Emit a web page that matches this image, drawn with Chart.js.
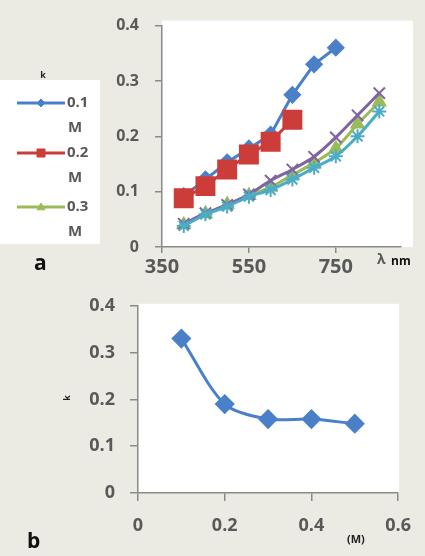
<!DOCTYPE html>
<html><head><meta charset="utf-8">
<script src="https://cdn.jsdelivr.net/npm/chart.js@4.4.0/dist/chart.umd.min.js"></script>
<style>
html,body{margin:0;padding:0;background:#ecebe3;width:425px;height:556px;overflow:hidden;}
.box{position:absolute;left:0;width:425px;}
#b1{top:0;height:280px;}
#b2{top:280px;height:276px;}
</style></head><body>
<div class="box" id="b1"><canvas id="c1"></canvas></div>
<div class="box" id="b2"><canvas id="c2"></canvas></div>
<script>
// ---------- data ----------
const wavelengths = [400, 450, 500, 550, 600, 650, 700, 750, 800, 850];
const k01 = [0.092, 0.122, 0.153, 0.178, 0.203, 0.275, 0.33, 0.36];
const k02 = [0.088, 0.11, 0.14, 0.167, 0.19, 0.23];
const k03 = [0.040, 0.060, 0.077, 0.093, 0.108, 0.130, 0.152, 0.178, 0.222, 0.262];
const k04 = [0.042, 0.061, 0.076, 0.095, 0.120, 0.140, 0.163, 0.198, 0.238, 0.278];
const k05 = [0.038, 0.059, 0.073, 0.091, 0.103, 0.122, 0.143, 0.164, 0.200, 0.245];
const seriesLabels = ['0.1 M', '0.2 M', '0.3 M', '0.4 M', '0.5 M'];
const concentrations = [0.1, 0.2, 0.3, 0.4, 0.5];
const kVsConc = [0.33, 0.19, 0.158, 0.158, 0.148];
const xTicksA = [350, 550, 750];
const yTicksK = [0, 0.1, 0.2, 0.3, 0.4];
const xTicksB = [0, 0.2, 0.4, 0.6];

const FONT = "'Open Sans', 'Liberation Sans', sans-serif";
const GREY = '#595959';
const AXIS = '#8a8a8a';
const C_BLUE = '#4a80c8', C_RED = '#cc3c38', C_GREEN = '#9bbb59', C_PURPLE = '#8064a2', C_CYAN = '#4bacc6';

function pts(xs, ys) { return ys.map((y, i) => ({x: xs[i], y})); }

// ---------- plugins ----------
const plotBg = {
  id: 'plotBg',
  beforeDraw(chart, args, o) {
    const a = chart.chartArea, ctx = chart.ctx;
    ctx.save();
    ctx.fillStyle = '#ffffff';
    ctx.fillRect(a.left, a.top - o.top, a.right - a.left + o.right, a.bottom - a.top + o.top);
    ctx.restore();
  }
};

const notes = {
  id: 'notes',
  afterDraw(chart, args, o) {
    const ctx = chart.ctx;
    (o.items || []).forEach(it => {
      ctx.save();
      ctx.font = it.font;
      ctx.fillStyle = it.color;
      ctx.textAlign = it.align || 'left';
      ctx.textBaseline = 'middle';
      ctx.translate(it.x, it.y);
      if (it.rot) ctx.rotate(it.rot);
      ctx.fillText(it.text, 0, 0);
      ctx.restore();
    });
  }
};

function marker(ctx, style, x, y, r, color) {
  ctx.save();
  ctx.fillStyle = color; ctx.strokeStyle = color; ctx.lineWidth = 1;
  ctx.beginPath();
  if (style === 'rectRot') {
    ctx.moveTo(x, y - r); ctx.lineTo(x + r, y); ctx.lineTo(x, y + r); ctx.lineTo(x - r, y); ctx.closePath();
  } else if (style === 'rect') {
    ctx.rect(x - r, y - r, 2 * r, 2 * r);
  } else {
    ctx.moveTo(x, y - r); ctx.lineTo(x + r, y + r * 0.7); ctx.lineTo(x - r, y + r * 0.7); ctx.closePath();
  }
  ctx.fill(); ctx.stroke();
  ctx.restore();
}

const sideLegend = {
  id: 'sideLegend',
  afterDraw(chart, args, o) {
    const ctx = chart.ctx;
    ctx.save();
    ctx.fillStyle = '#ffffff';
    ctx.fillRect(o.x, o.y, o.w, o.h);
    o.rows.forEach((row, i) => {
      const ds = chart.data.datasets[i];
      const y = row;
      ctx.strokeStyle = ds.borderColor; ctx.lineWidth = 3;
      ctx.beginPath(); ctx.moveTo(o.lineX0, y); ctx.lineTo(o.lineX1, y); ctx.stroke();
      marker(ctx, o.styles[i], (o.lineX0 + o.lineX1) / 2, y, o.sizes[i], ds.backgroundColor);
      const parts = ds.label.split(' ');
      ctx.fillStyle = GREY;
      ctx.font = "bold 15px " + FONT;
      ctx.textBaseline = 'middle';
      ctx.textAlign = 'left';
      ctx.fillText(parts[0], o.textX, y);
      ctx.fillText(parts[1], o.textX + 1, y + o.lineGap);
    });
    ctx.restore();
  }
};

function axisOpts(fontSize, tickLen, pad) {
  return {
    grid: {display: true, drawOnChartArea: false, drawTicks: true, tickLength: tickLen, color: AXIS, lineWidth: 1.5},
    border: {display: true, color: AXIS, width: 1.5},
    ticks: {color: GREY, font: {family: FONT, size: fontSize, weight: 'bold'}, padding: pad, maxRotation: 0, autoSkip: false,
            callback: v => String(v)}
  };
}

// ---------- chart a ----------
const xA = axisOpts(20, 6, 2);
const yA = axisOpts(16, 7, 16);
new Chart(document.getElementById('c1'), {
  type: 'line',
  data: {
    datasets: [
      {label: seriesLabels[0], data: pts(wavelengths, k01), borderColor: C_BLUE, backgroundColor: C_BLUE, borderWidth: 3,
       pointStyle: 'rectRot', pointRadius: 7, tension: 0, order: 0},
      {label: seriesLabels[1], data: pts(wavelengths, k02), borderColor: C_RED, backgroundColor: C_RED, borderWidth: 3,
       pointStyle: 'rect', pointRadius: 12, tension: 0, order: -1},
      {label: seriesLabels[2], data: pts(wavelengths, k03), borderColor: C_GREEN, backgroundColor: C_GREEN, borderWidth: 3,
       pointStyle: 'triangle', pointRadius: 6, tension: 0.25, order: -2},
      {label: seriesLabels[3], data: pts(wavelengths, k04), borderColor: C_PURPLE, backgroundColor: C_PURPLE, borderWidth: 3,
       pointStyle: 'crossRot', pointRadius: 8, pointBorderWidth: 2, tension: 0.25, order: -3},
      {label: seriesLabels[4], data: pts(wavelengths, k05), borderColor: C_CYAN, backgroundColor: C_CYAN, borderWidth: 3,
       pointStyle: 'star', pointRadius: 7, pointBorderWidth: 2, tension: 0.25, order: -4}
    ]
  },
  options: {
    responsive: true, maintainAspectRatio: false, animation: false,
    layout: {padding: {left: 0, right: 24, top: 18, bottom: 0}},
    scales: {
      x: Object.assign({type: 'linear', min: 350, max: 900,
        afterBuildTicks: s => { s.ticks = xTicksA.map(v => ({value: v})); },
        afterFit: s => { s.height = 33; }}, xA),
      y: Object.assign({type: 'linear', min: 0, max: 0.4,
        afterBuildTicks: s => { s.ticks = yTicksK.map(v => ({value: v})); },
        afterFit: s => { s.width = 162; }}, yA)
    },
    plugins: {
      legend: {display: false}, tooltip: {enabled: false},
      plotBg: {top: 5, right: 12},
      sideLegend: {x: 0, y: 80, w: 100, h: 164, lineX0: 17, lineX1: 65, textX: 67, lineGap: 25,
                   rows: [103, 153, 207], styles: ['rectRot', 'rect', 'triangle'], sizes: [4, 4, 4]},
      notes: {items: [
        {text: 'a', x: 34, y: 264, font: "bold 21px " + FONT, color: '#111'},
        {text: 'λ', x: 377, y: 260, font: "bold 14px " + FONT, color: GREY},
        {text: 'nm', x: 391, y: 262, font: "bold 12px " + FONT, color: '#111'},
        {text: 'k', x: 43, y: 75, font: "bold 9px " + FONT, color: '#222', align: 'center'}
      ]}
    }
  },
  plugins: [plotBg, sideLegend, notes]
});

// ---------- chart b ----------
const xB = axisOpts(18, 8, 14);
const yB = axisOpts(18, 8, 15);
new Chart(document.getElementById('c2'), {
  type: 'line',
  data: {
    datasets: [
      {label: 'k', data: pts(concentrations, kVsConc), borderColor: C_BLUE, backgroundColor: C_BLUE, borderWidth: 3,
       pointStyle: 'rectRot', pointRadius: 8, tension: 0.3}
    ]
  },
  options: {
    responsive: true, maintainAspectRatio: false, animation: false,
    layout: {padding: {left: 0, right: 19, top: 24, bottom: 0}},
    scales: {
      x: Object.assign({type: 'linear', min: 0, max: 0.6,
        afterBuildTicks: s => { s.ticks = xTicksB.map(v => ({value: v})); },
        afterFit: s => { s.height = 63; }}, xB),
      y: Object.assign({type: 'linear', min: 0, max: 0.4,
        afterBuildTicks: s => { s.ticks = yTicksK.map(v => ({value: v})); },
        afterFit: s => { s.width = 138; }}, yB)
    },
    plugins: {
      legend: {display: false}, tooltip: {enabled: false},
      plotBg: {top: 2, right: 1},
      notes: {items: [
        {text: 'b', x: 27, y: 262, font: "bold 21px " + FONT, color: '#111'},
        {text: '(M)', x: 347, y: 260, font: "bold 11px " + FONT, color: '#222'},
        {text: 'k', x: 67, y: 118, font: "bold 9px " + FONT, color: '#222', align: 'center', rot: -Math.PI / 2}
      ]}
    }
  },
  plugins: [plotBg, notes]
});
</script>
</body></html>
